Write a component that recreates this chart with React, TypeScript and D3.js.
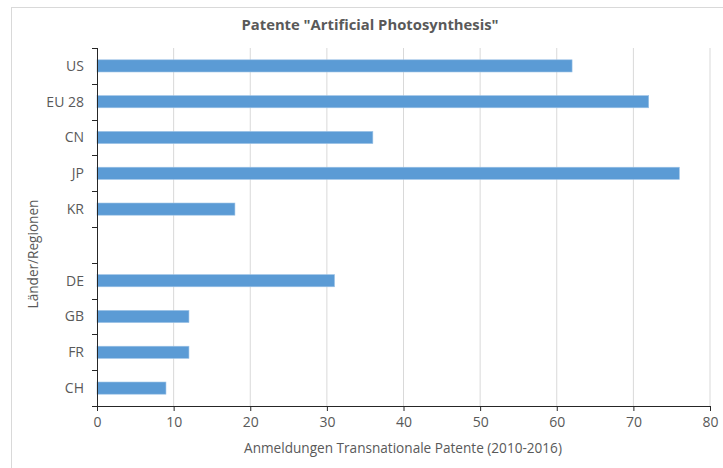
import { useEffect, useRef } from 'react';
import * as d3 from 'd3';

const title = 'Patente "Artificial Photosynthesis"';
const regions = ['US', 'EU 28', 'CN', 'JP', 'KR', '', 'DE', 'GB', 'FR', 'CH'];
const patents = [62, 72, 36, 76, 18, null, 31, 12, 12, 9];
const xTicks = [0, 10, 20, 30, 40, 50, 60, 70, 80];
const xTitle = 'Anmeldungen Transnationale Patente (2010-2016)';
const yTitle = 'Länder/Regionen';

const W = 723;
const H = 468;
const FONT = '"Open Sans", sans-serif';

export default function App() {
  const svgRef = useRef<SVGSVGElement>(null);

  useEffect(() => {
    const svg = d3.select(svgRef.current);
    svg.selectAll('*').remove();

    const margin = { top: 48, right: 13, bottom: 62, left: 97 };
    const innerW = W - margin.left - margin.right;
    const innerH = H - margin.top - margin.bottom;

    // outer chart border
    svg.append('rect')
      .attr('x', 11.5).attr('y', 7.5)
      .attr('width', W + 20).attr('height', H + 20)
      .attr('fill', '#fff').attr('stroke', '#d9d9d9');

    svg.append('text')
      .attr('x', 370).attr('y', 30)
      .attr('text-anchor', 'middle')
      .attr('font-family', FONT).attr('font-weight', 'bold').attr('font-size', 14.8)
      .attr('fill', '#595959')
      .text(title);

    const g = svg.append('g').attr('transform', `translate(${margin.left},${margin.top})`);

    const x = d3.scaleLinear().domain([0, 80]).range([0, innerW]);
    const y = d3.scaleBand<number>().domain(d3.range(regions.length)).range([0, innerH]).paddingInner(0.66).paddingOuter(0.33);

    // gridlines
    g.append('g')
      .selectAll('line')
      .data(xTicks.slice(1))
      .join('line')
      .attr('x1', d => x(d)).attr('x2', d => x(d))
      .attr('y1', 0).attr('y2', innerH)
      .attr('stroke', '#d9d9d9').attr('stroke-width', 1);

    // bars
    g.append('g')
      .selectAll('rect')
      .data(patents.map((v, i) => ({ v, i })).filter(d => d.v != null))
      .join('rect')
      .attr('x', 0)
      .attr('y', d => y(d.i)!)
      .attr('width', d => x(d.v as number))
      .attr('height', y.bandwidth())
      .attr('fill', '#5b9bd5')
      .attr('stroke', '#9dc3e6')
      .attr('stroke-width', 0.6);

    // x axis
    const xAxis = g.append('g')
      .attr('transform', `translate(0,${innerH})`)
      .call(d3.axisBottom(x).tickValues(xTicks).tickSize(5).tickPadding(6));
    xAxis.select('.domain').attr('stroke', '#262626');
    xAxis.selectAll('.tick line').attr('stroke', '#262626');
    xAxis.selectAll('text')
      .attr('font-family', FONT).attr('font-size', 14).attr('fill', '#595959');

    // y axis with ticks at band boundaries
    const step = innerH / regions.length;
    const yg = g.append('g');
    yg.append('line')
      .attr('x1', 0.5).attr('x2', 0.5).attr('y1', 0).attr('y2', innerH)
      .attr('stroke', '#262626');
    yg.selectAll('line.tk')
      .data(d3.range(regions.length + 1))
      .join('line')
      .attr('class', 'tk')
      .attr('x1', -5).attr('x2', 0.5)
      .attr('y1', d => Math.round(d * step) + 0.5).attr('y2', d => Math.round(d * step) + 0.5)
      .attr('stroke', '#262626');
    yg.selectAll('text')
      .data(regions)
      .join('text')
      .attr('x', -13)
      .attr('y', (_, i) => y(i)! + y.bandwidth() / 2)
      .attr('dy', '0.35em')
      .attr('text-anchor', 'end')
      .attr('font-family', FONT).attr('font-size', 14).attr('fill', '#595959')
      .text(d => d);

    svg.append('text')
      .attr('x', 403).attr('y', 453)
      .attr('text-anchor', 'middle')
      .attr('font-family', FONT).attr('font-size', 13.6).attr('fill', '#595959')
      .text(xTitle);

    svg.append('text')
      .attr('transform', `translate(38,254) rotate(-90)`)
      .attr('text-anchor', 'middle')
      .attr('font-family', FONT).attr('font-size', 13.6).attr('fill', '#595959')
      .text(yTitle);
  }, []);

  return (
    <div style={{ position: 'absolute', left: 0, top: 0 }}>
      <svg ref={svgRef} width={W} height={H} style={{ display: 'block' }} />
    </div>
  );
}
